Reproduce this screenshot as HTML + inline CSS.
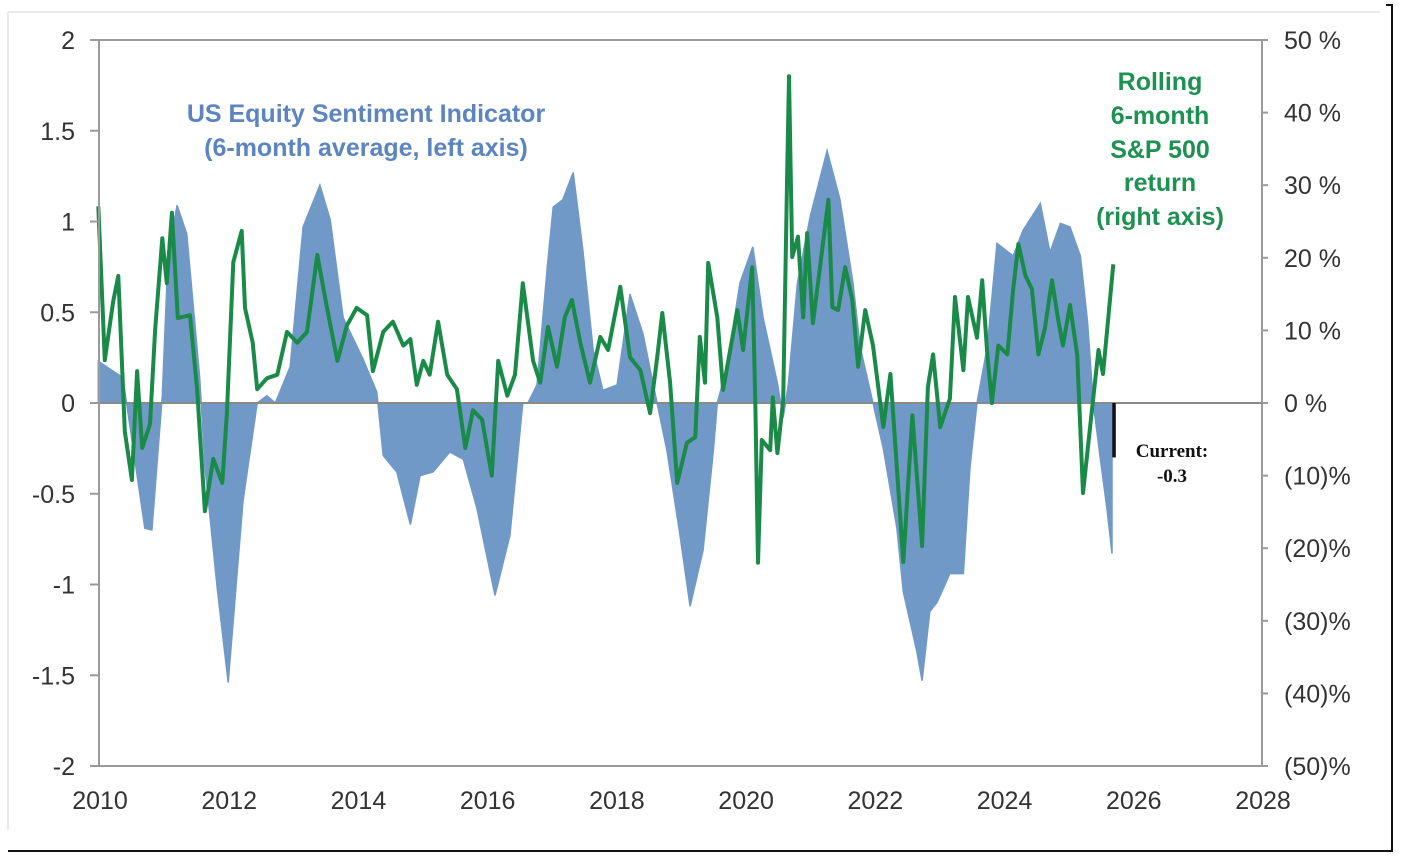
<!DOCTYPE html>
<html><head><meta charset="utf-8"><style>
html,body{margin:0;padding:0;background:#fff;}
svg{display:block;font-family:"Liberation Sans",Arial,sans-serif;}
</style></head><body>
<svg id="chart" width="1416" height="868" viewBox="0 0 1416 868">
<line x1="8" y1="12" x2="1380" y2="12" stroke="#e4e4e4" stroke-width="1.5"/>
<line x1="8" y1="12" x2="8" y2="830" stroke="#e4e4e4" stroke-width="1.5"/>
<line x1="1392" y1="5" x2="1392" y2="851" stroke="#111" stroke-width="2"/>
<line x1="1386" y1="5" x2="1393" y2="5" stroke="#111" stroke-width="2"/>
<line x1="8" y1="851" x2="1393" y2="851" stroke="#111" stroke-width="2"/>
<g id="plot"></g>
<g id="axes"></g>
<text x="366" y="122" text-anchor="middle" font-size="25" font-weight="bold" fill="#5b84c0">US Equity Sentiment Indicator</text>
<text x="366" y="156" text-anchor="middle" font-size="25" font-weight="bold" fill="#5b84c0">(6-month average, left axis)</text>
<g font-size="25" font-weight="bold" fill="#1d9151" text-anchor="middle">
<text x="1160" y="90">Rolling</text>
<text x="1160" y="124">6-month</text>
<text x="1160" y="158">S&amp;P 500</text>
<text x="1160" y="191">return</text>
<text x="1160" y="225">(right axis)</text>
</g>
<text x="1172" y="457" text-anchor="middle" font-size="19" font-weight="bold" font-family="Liberation Serif,serif" fill="#111">Current:</text>
<text x="1172" y="482" text-anchor="middle" font-size="19" font-weight="bold" font-family="Liberation Serif,serif" fill="#111">-0.3</text>
</svg>
<script>
const sentDates=[2010.02,2010.40,2010.56,2010.74,2010.85,2011.01,2011.10,2011.24,2011.39,2011.59,2011.67,2011.86,2012.03,2012.26,2012.48,2012.63,2012.76,2012.99,2013.19,2013.45,2013.61,2013.81,2014.12,2014.33,2014.43,2014.64,2014.85,2015.00,2015.20,2015.46,2015.67,2015.88,2016.16,2016.39,2016.59,2016.67,2016.81,2016.97,2017.06,2017.21,2017.37,2017.52,2017.68,2017.83,2018.05,2018.25,2018.45,2018.61,2018.82,2019.02,2019.18,2019.38,2019.54,2019.60,2019.75,2019.95,2020.15,2020.31,2020.53,2020.62,2020.70,2020.84,2021.04,2021.30,2021.50,2021.70,2021.81,2022.01,2022.17,2022.38,2022.48,2022.69,2022.77,2022.89,2023.00,2023.20,2023.41,2023.51,2023.62,2023.78,2023.93,2024.18,2024.33,2024.60,2024.75,2024.91,2025.06,2025.22,2025.33,2025.42,2025.53,2025.63,2025.71];
const sentValues=[0.23,0.14,-0.25,-0.69,-0.70,0.04,0.82,1.09,0.93,0.14,-0.35,-1.02,-1.54,-0.54,0,0.04,0,0.2,0.97,1.2,1.01,0.47,0.24,0.06,-0.29,-0.38,-0.67,-0.4,-0.38,-0.27,-0.31,-0.58,-1.06,-0.73,0,0,0.1,0.75,1.08,1.12,1.27,0.84,0.29,0.07,0.1,0.6,0.38,0.1,-0.26,-0.72,-1.12,-0.81,-0.26,0,0.2,0.66,0.86,0.47,0.11,-0.08,0.1,0.66,1.03,1.39,1.12,0.66,0.31,0,-0.25,-0.69,-1.04,-1.37,-1.53,-1.15,-1.1,-0.94,-0.94,-0.36,0,0.31,0.88,0.81,0.95,1.1,0.83,0.99,0.97,0.81,0.45,0,-0.31,-0.58,-0.83];
const spDates=[2010.02,2010.12,2010.25,2010.33,2010.43,2010.54,2010.62,2010.70,2010.82,2010.90,2011.01,2011.08,2011.16,2011.25,2011.44,2011.55,2011.67,2011.80,2011.94,2012.01,2012.11,2012.24,2012.29,2012.41,2012.48,2012.63,2012.79,2012.94,2013.10,2013.25,2013.41,2013.56,2013.72,2013.87,2014.02,2014.18,2014.27,2014.43,2014.58,2014.74,2014.85,2014.95,2015.05,2015.15,2015.28,2015.42,2015.57,2015.70,2015.82,2015.96,2016.11,2016.21,2016.35,2016.47,2016.59,2016.75,2016.86,2016.98,2017.12,2017.24,2017.35,2017.48,2017.63,2017.79,2017.91,2018.10,2018.25,2018.41,2018.56,2018.67,2018.75,2018.87,2018.98,2019.13,2019.26,2019.33,2019.41,2019.46,2019.60,2019.69,2019.80,2019.91,2020.00,2020.14,2020.19,2020.23,2020.29,2020.42,2020.46,2020.53,2020.62,2020.68,2020.71,2020.76,2020.85,2020.93,2020.99,2021.08,2021.19,2021.32,2021.38,2021.47,2021.58,2021.69,2021.78,2021.89,2022.01,2022.17,2022.28,2022.38,2022.48,2022.62,2022.77,2022.86,2022.94,2023.05,2023.20,2023.28,2023.41,2023.48,2023.62,2023.70,2023.78,2023.85,2023.95,2024.09,2024.18,2024.26,2024.37,2024.47,2024.57,2024.67,2024.78,2024.88,2024.95,2025.06,2025.17,2025.26,2025.37,2025.50,2025.57,2025.73];
const spValues=[27.1,5.9,14,17.5,-3.9,-10.6,4.4,-6.2,-2.9,10.2,22.7,16.5,26.2,11.7,12.1,1.9,-14.9,-7.7,-11,-1.4,19.4,23.7,13.1,8.3,1.9,3.4,3.9,9.8,8.3,9.8,20.4,13.1,5.8,10.7,13.1,12.1,4.4,9.8,11.2,7.9,8.8,2.5,5.8,3.9,11.2,3.9,1.9,-6.2,-1,-2.3,-10,5.8,1,3.9,16.5,5.8,2.8,10.5,5,11.8,14.2,8.3,2.8,9.1,7.3,16,6.3,4.5,-1.4,6.3,12.4,2.8,-11,-5.5,-4.7,9.1,2.8,19.3,11.8,1.8,7.3,12.8,7.3,18.7,-0.6,-22,-5.1,-6.5,0.8,-6.9,0.4,30.3,45,20.1,22.9,11.8,23.4,11,18.7,28,13.2,12.8,18.7,14.2,5,12.8,7.9,-3.3,4,-9,-21.9,-1.7,-19.7,2.2,6.7,-3.3,0.6,14.6,4.5,14.6,9,16.9,6.7,0,7.9,6.7,15.7,21.9,17.5,15.7,6.7,10.2,16.9,11.3,7.9,13.5,6.7,-12.4,-3.3,7.3,4,19.1];
const xTicks=[2010,2012,2014,2016,2018,2020,2022,2024,2026,2028];
const leftTicks=[2,1.5,1,0.5,0,-0.5,-1,-1.5,-2];
const leftTickLabels=["2","1.5","1","0.5","0","-0.5","-1","-1.5","-2"];
const rightTicks=[50,40,30,20,10,0,-10,-20,-30,-40,-50];
const rightTickLabels=["50 %","40 %","30 %","20 %","10 %","0 %","(10)%","(20)%","(30)%","(40)%","(50)%"];
const currentValue=-0.3;

const X0=97,X1=1260,YT=40,YB=766;
const xS=v=>X0+(v-2010)/18*(X1-X0);
const yL=v=>YT+(2-v)/4*(YB-YT);
const yR=v=>YT+(50-v)/100*(YB-YT);
const NS='http://www.w3.org/2000/svg';
function mk(tag,attrs,parent){const e=document.createElementNS(NS,tag);for(const k in attrs)e.setAttribute(k,attrs[k]);parent.appendChild(e);return e;}
const plotG=document.getElementById('plot'),axesG=document.getElementById('axes');

let d='M'+xS(sentDates[0])+','+yL(0);
sentDates.forEach((t,i)=>{d+=' L'+xS(t).toFixed(1)+','+yL(sentValues[i]).toFixed(1);});
d+=' L'+xS(sentDates[sentDates.length-1])+','+yL(0)+' Z';
const area=mk('path',{d:d,fill:'#7099c8',stroke:'#7099c8','stroke-width':1.5},plotG);



const zl=mk('line',{x1:X0,y1:yL(0),x2:X1+4,y2:yL(0),stroke:'#8a8a8a','stroke-width':2},plotG);



const pts=spDates.map((t,i)=>xS(t).toFixed(1)+','+yR(spValues[i]).toFixed(1)).join(' ');
const gl=mk('polyline',{points:pts,fill:'none',stroke:'#1a8a48','stroke-width':4,'stroke-linejoin':'round'},plotG);



const cb=mk('line',{x1:xS(2025.71)+2,y1:yL(0),x2:xS(2025.71)+2,y2:yL(currentValue),stroke:'#111','stroke-width':3.5},plotG);



const topBorder=mk('line',{x1:X0,y1:YT,x2:X1+8,y2:YT,stroke:'#9a9a9a','stroke-width':2},axesG);


const la=mk('line',{x1:X0+2,y1:YT,x2:X0+2,y2:YB,stroke:'#9a9a9a','stroke-width':2},axesG);


const ra=mk('line',{x1:X1+2,y1:YT,x2:X1+2,y2:YB,stroke:'#9a9a9a','stroke-width':2},axesG);


const ba=mk('line',{x1:X0-7,y1:YB,x2:X1+8,y2:YB,stroke:'#9a9a9a','stroke-width':2},axesG);



leftTicks.forEach((v,i)=>{
  const tk=mk('line',{x1:X0-7,y1:yL(v),x2:X0+2,y2:yL(v),stroke:'#9a9a9a','stroke-width':2},axesG);
  
  
  const t=mk('text',{x:75,y:yL(v)+9,'text-anchor':'end','font-size':25,fill:'#333'},axesG);
  t.textContent=leftTickLabels[i];
  
  
});
rightTicks.forEach((v,i)=>{
  const tk=mk('line',{x1:X1+2,y1:yR(v),x2:X1+8,y2:yR(v),stroke:'#9a9a9a','stroke-width':2},axesG);
  
  
  const t=mk('text',{x:1284,y:yR(v)+9,'text-anchor':'start','font-size':25,fill:'#333'},axesG);
  t.textContent=rightTickLabels[i];
  
  
});
xTicks.forEach(v=>{
  const t=mk('text',{x:xS(v)+3,y:809,'text-anchor':'middle','font-size':25,fill:'#333'},axesG);
  t.textContent=String(v);
  
  
});
</script>
</body></html>
